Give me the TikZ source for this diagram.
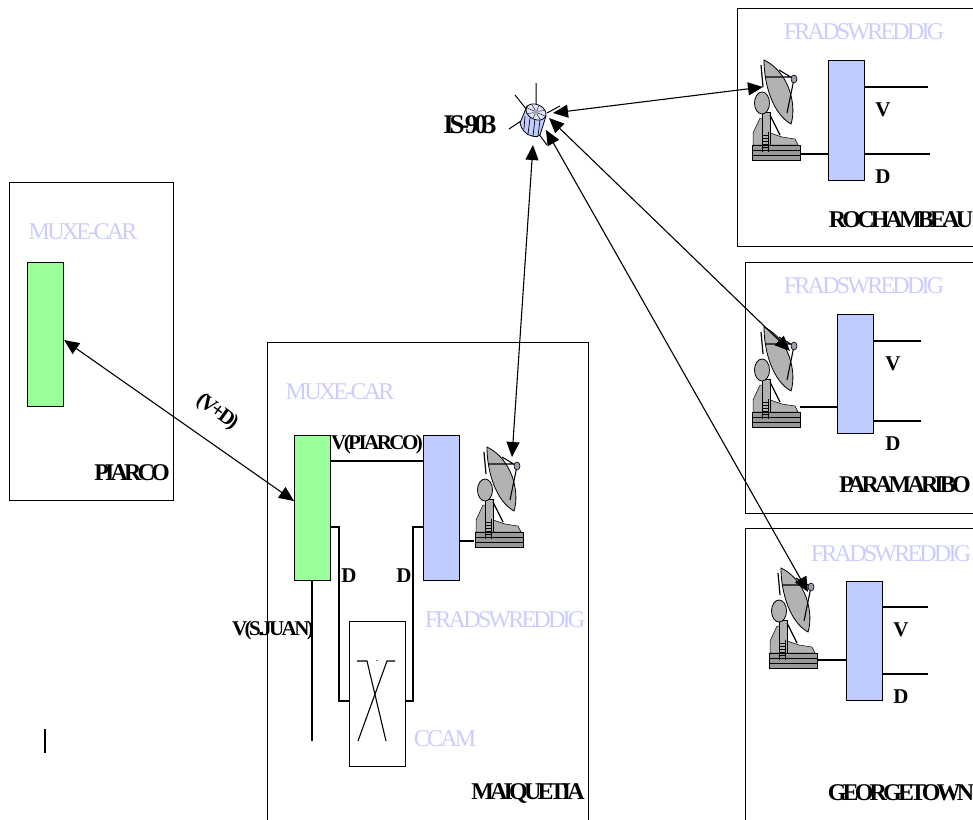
\documentclass[tikz,border=0pt]{standalone}
\usepackage{fontspec}
\setmainfont{Liberation Serif}
\newfontfamily\titlefont[LetterSpace=-11.5]{Liberation Serif}
\newfontfamily\namefont[LetterSpace=-16]{Liberation Serif}
\newfontfamily\wirefont[LetterSpace=-12]{Liberation Serif}
\usetikzlibrary{arrows.meta}
\definecolor{muxgreen}{HTML}{99FF99}
\definecolor{fradblue}{HTML}{C0CCFF}
\definecolor{titleblue}{HTML}{CCCCFF}
\tikzset{ antenna/.pic = { % dish on its stand
        \fill [gray!60,draw=black,line width=.5pt] (2,85) -- (2,73) -- (9,58) -- (19,58) -- (19,73) -- (31,77) -- (44,79) -- (47,85) -- cycle;
        \fill [gray!80,draw=black,line width=.5pt] (1,85) rectangle (49,100);
        \draw [line width=.5pt] (1,90) -- (49,90) (1,95) -- (49,95);
        \fill [gray!60,draw=black,line width=.5pt] (11,52) rectangle (19,85);
        \draw [line width=.5pt] (11,72) -- (11,92) (17,72) -- (17,92) (11,75) -- (17,75) (11,78) -- (17,78) (11,81) -- (17,81) (11,84) -- (17,84) (11,87) -- (17,87) (11,90) -- (17,90);
        \draw [line width=1.2pt] (19,55) -- (29,75);
        \draw [line width=1.2pt] (10,5) -- (12,27);
        \fill [gray!60,draw=black,line width=.8pt] (13,0) .. controls (13,25) and (22,54) .. (40,64) .. controls (46,45) and (38,12) .. cycle;
        \draw [line width=1.1pt] (14,17) -- (43,17) (43,19) -- (36,53) (28,10) -- (43,19);
        \fill [gray!60!fradblue,draw=black,line width=.6pt] (43,19) ellipse (3 and 4);
        \fill [gray!60,draw=black,line width=.8pt] (11,43) ellipse (7.5 and 11);
        }
        , satellite/.pic = { % body with its spikes
        \draw [line width=1pt] (6,-39) -- (6,-15) (-15,-27) -- (-3,-12) (-21,7) -- (-9,-1) (17,-9) -- (30,-16) (8,11) -- (17,23);
        \fill [fradblue,draw=black,line width=.8pt] (-3,-16) -- (-10,1) .. controls (-9,7) and (-4,13) .. (2,14) .. controls (6,15) and (9,15) .. (10,13) -- (16,-6) -- cycle;
        \draw [line width=.7pt] (-5,-6) -- (-6,7) (0,-4) -- (-2,12) (5,-3) -- (3,14) (10,-2) -- (8,14);
        \fill [fradblue!50,draw=black,line width=.8pt] (6,-10) ellipse [x radius=10.5,y radius=7.5,rotate=-25];
        \begin{scope}[shift={(6,-10)},rotate=-25]
        \foreach \a in {0,45,...,315}
            \draw [line width=.4pt] (\a:2) -- (\a:10 and 7);
        \end{scope}
        \fill [gray!70] (6,-10) circle (2.6);
        }
        }
\begin{document}
\begin{tikzpicture}[x=1pt, y=-1pt, line width=1.1pt,
        site_style/.style={rectangle,draw=black,fill=none,anchor=north west,inner sep=0pt},
        mux_style/.style={rectangle,draw=black,fill=muxgreen,anchor=north west,inner sep=0pt,minimum width=36pt},
        frad_style/.style={rectangle,draw=black,fill=fradblue,anchor=north west,inner sep=0pt,minimum width=36pt},
        title_style/.style={text=titleblue,font=\fontsize{24}{24}\selectfont\titlefont,inner sep=0pt},
        name_style/.style={text=black,font=\fontsize{24}{24}\selectfont\bfseries\namefont,inner sep=0pt},
        wire_style/.style={text=black,font=\fontsize{21}{21}\selectfont\bfseries\wirefont,inner sep=0pt},
        edge_style/.style={draw=black,line width=1.1pt},
        link_style/.style={draw=black,line width=1.1pt,{Triangle[length=15pt,width=13pt]}-{Triangle[length=15pt,width=13pt]}}]
        \useasboundingbox (0,0) rectangle (973,819);

        % sites
        \node [site_style,minimum width=164pt,minimum height=318pt](piarco) at (9,182) {};
        \node [site_style,minimum width=321pt,minimum height=490pt](maiquetia) at (267,342) {};
        \node [site_style,minimum width=250pt,minimum height=238pt](rochambeau) at (737,8) {};
        \node [site_style,minimum width=240pt,minimum height=251pt](paramaribo) at (745,262) {};
        \node [site_style,minimum width=240pt,minimum height=300pt](georgetown) at (745,528) {};

        % equipment
        \node [mux_style,minimum height=144pt](mux1) at (27,262) {};
        \node [mux_style,minimum height=145pt](mux2) at (294,435) {};
        \node [frad_style,minimum height=145pt](frad1) at (423,435) {};
        \node [frad_style,minimum height=120pt](frad2) at (828,60) {};
        \node [frad_style,minimum height=119pt](frad3) at (837,314) {};
        \node [frad_style,minimum height=119pt](frad4) at (846,581) {};
        \node [site_style,minimum width=56pt,minimum height=145pt](ccam) at (349,621) {};

        \pic at (474,447) {antenna};
        \pic at (751,60) {antenna};
        \pic at (751,327) {antenna};
        \pic at (768,568) {antenna};
        \pic at (530,122) {satellite};

        % free ends
        \coordinate (sat1) at (553,113);
        \coordinate (sat2) at (549,118);
        \coordinate (sat3) at (546,130);
        \coordinate (sat4) at (533,145);
        \coordinate (ant1) at (512,457);
        \coordinate (ant2) at (763,87);
        \coordinate (ant3) at (790,351);
        \coordinate (ant4) at (808,592);

        \draw [link_style] (mux1.east |- 0,340) -- (mux2.west |- 0,501);
        \draw [link_style] (sat1) -- (ant2);
        \draw [link_style] (sat2) -- (ant3);
        \draw [link_style] (sat3) -- (ant4);
        \draw [link_style] (sat4) -- (ant1);

        % wiring
        \draw [edge_style] (mux2.east |- 0,461) -- (frad1.west |- 0,461);
        \draw [edge_style] (mux2.east |- 0,527) -- (339,527) -- (339,701) -- (ccam.west |- 0,701);
        \draw [edge_style] (frad1.west |- 0,527) -- (413,527) -- (413,701) -- (ccam.east |- 0,701);
        \draw [edge_style] (mux2.south -| 312,0) -- (312,741);
        \draw [edge_style] (frad1.east |- 0,541) -- (474,541);
        \draw [edge_style] (800,154) -- (frad2.west |- 0,154);
        \draw [edge_style] (frad2.east |- 0,87) -- (928,87);
        \draw [edge_style] (frad2.east |- 0,154) -- (930,154);
        \draw [edge_style] (800,407) -- (frad3.west |- 0,407);
        \draw [edge_style] (frad3.east |- 0,341) -- (921,341);
        \draw [edge_style] (frad3.east |- 0,421) -- (921,421);
        \draw [edge_style] (817,660) -- (frad4.west |- 0,660);
        \draw [edge_style] (frad4.east |- 0,607) -- (928,607);
        \draw [edge_style] (frad4.east |- 0,674) -- (928,674);

        % matrix inside the ccam box
        \draw [edge_style] (357,661) -- (367,661) -- (386,741);
        \draw [edge_style] (395,661) -- (387,661) -- (358,741);
        \fill (377,660.5) circle (.6);
        \draw [edge_style] (45,729) -- (45,753);

        % texts
        \node [title_style](t1) at (83,232) {MUXE-CAR};
        \node [title_style](t2) at (340,392) {MUXE-CAR};
        \node [title_style](t3) at (864,32) {FRADSWREDDIG};
        \node [title_style](t4) at (864,286) {FRADSWREDDIG};
        \node [title_style](t5) at (891,554) {FRADSWREDDIG};
        \node [title_style](t6) at (505,620) {FRADSWREDDIG};
        \node [title_style](t7) at (445,739) {CCAM};
        \node [name_style](n1) at (132,473) {PIARCO};
        \node [name_style](n2) at (528,793) {MAIQUETIA};
        \node [name_style](n3) at (901,220) {ROCHAMBEAU};
        \node [name_style](n4) at (905,485) {PARAMARIBO};
        \node [name_style](n5) at (901,793) {GEORGETOWN};
        \node [name_style,font=\fontsize{27}{27}\selectfont\bfseries\namefont](n6) at (470,125) {IS-903};
        \node [wire_style,rotate=-36](n7) at (217,412) {(V+D)};
        \node [wire_style](n8) at (377,444) {V(PIARCO)};
        \node [wire_style](n9) at (273,630) {V(S.JUAN)};
        \node [wire_style](d1) at (349,576) {D};
        \node [wire_style](d2) at (404,576) {D};
        \node [wire_style](v2) at (883,110) {V};
        \node [wire_style](d3) at (883,177) {D};
        \node [wire_style](v3) at (893,364) {V};
        \node [wire_style](d4) at (893,444) {D};
        \node [wire_style](v4) at (901,630) {V};
        \node [wire_style](d5) at (901,697) {D};
        \end{tikzpicture}
\end{document}
